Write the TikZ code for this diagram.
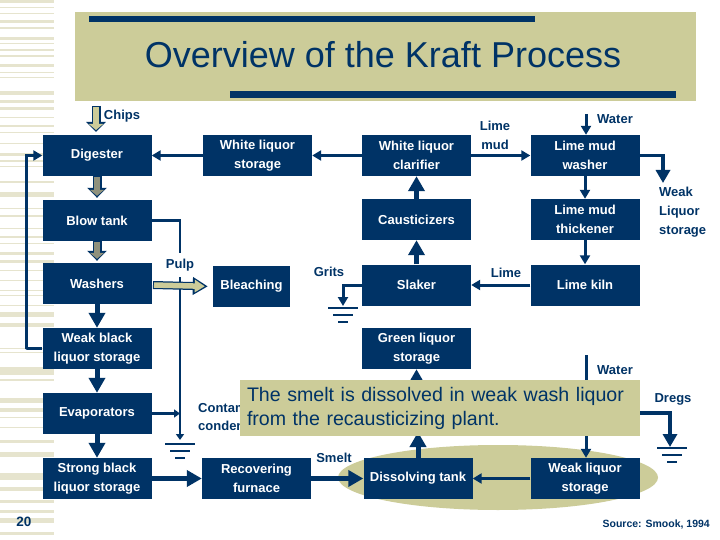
\documentclass[tikz,border=0pt]{standalone}
\usepackage{fontspec}
\setmainfont{Liberation Sans}
\usetikzlibrary{arrows.meta, shapes.geometric}
\definecolor{navy}{HTML}{003366}
\definecolor{olive}{HTML}{CCCC99}
\definecolor{stripe}{HTML}{E6E4CE}
\definecolor{steel}{HTML}{8F917C}
\newcommand{\blockpipe}[3]{%
    \draw[navy, line width=9pt, shorten >=2pt, -{Triangle[length=10pt, width=19pt]}] (#2) -- (#3);
    \draw[#1, line width=6.5pt, shorten <=1pt, shorten >=4pt, -{Triangle[length=6pt, width=14pt]}] (#2) -- (#3);
}

\begin{document}
\begin{tikzpicture}[
    x=1pt, y=-1pt,
    tank/.style={shape=rectangle, fill=navy, text=white, minimum width=109pt, minimum height=41pt, inner sep=0pt, align=center, font=\fontsize{13}{19}\selectfont\bfseries},
    lbl/.style={text=navy, inner sep=0pt, align=center, font=\fontsize{13}{19}\selectfont\bfseries},
    pipe/.style={draw=navy, line width=3pt, -{Triangle[length=9pt, width=10pt]}},
    tiny/.style={draw=navy, line width=2.5pt, -{Triangle[length=6pt, width=8pt]}},
    main/.style={draw=navy, line width=5pt, -{Triangle[length=15pt, width=16pt]}},
    drain/.style={draw=navy, line width=3.5pt, -{Triangle[length=13pt, width=14pt]}},
    groundmark/.pic={
        \draw[navy, line width=1.5pt] (-15,0) -- (15,0);
        \draw[navy, line width=1.5pt] (-10,7) -- (10,7);
        \draw[navy, line width=1.5pt] (-5,14) -- (5,14);
    },
]
\useasboundingbox (0,0) rectangle (720,540);
\fill[white] (0,0) rectangle (720,540);

% side stripes
\foreach \y/\h in {0/3, 7/1, 13/1, 20/3, 27/2, 37/3, 43/1, 49/2, 55/2, 64/3, 72/1, 77/1, 91/4, 100/3, 107/3, 117/1, 125/2, 132/1, 143/1, 153/3, 160/2, 166/1, 181/2, 192/5, 208/1, 215/2, 228/1, 236/2, 243/1, 252/3, 260/3, 270/1, 280/1, 290/1, 295/1, 305/1, 312/5, 323/4, 348/1, 352/1, 367/8, 379/2, 398/5, 408/4, 417/1, 427/1, 440/3, 452/5, 473/7, 487/4, 500/3, 510/3, 518/5, 532/3}
    \fill[stripe] (0,\y) rectangle ++(54,\h);

% title
\node[fill=olive, minimum width=621pt, minimum height=89pt, inner sep=0pt] (band) at (385.5,56.5) {};
\node[fill=navy, minimum width=446pt, minimum height=6pt, inner sep=0pt] (barone) at (312,19) {};
\node[fill=navy, minimum width=446pt, minimum height=7pt, inner sep=0pt] (bartwo) at (453,94.5) {};
\node[text=navy, inner sep=0pt, font=\fontsize{36}{40}\selectfont] (title) at (383,55) {Overview of the Kraft Process};

\node[shape=ellipse, fill=olive, minimum width=320pt, minimum height=65pt, inner sep=0pt] (pool) at (498,477.5) {};

\node[tank] (digester) at (97,155.5) {Digester};
\node[tank] (blow) at (97,220.5) {Blow tank};
\node[tank] (washers) at (97,283.5) {Washers};
\node[tank] (weakblack) at (97,348.5) {Weak black\\liquor storage};
\node[tank] (evap) at (97,413.5) {Evaporators};
\node[tank] (strong) at (97,478.5) {Strong black\\liquor storage};
\node[tank] (whitest) at (257.5,155.5) {White liquor\\storage};
\node[tank, minimum width=77pt] (bleach) at (251.5,286.5) {Bleaching};
\node[tank] (furnace) at (256.5,478.5) {Recovering\\furnace};
\node[tank] (clarifier) at (416.5,155.5) {White liquor\\clarifier};
\node[tank] (caust) at (416.5,219.5) {Causticizers};
\node[tank] (slaker) at (416.5,285) {Slaker};
\node[tank] (green) at (416.5,348.5) {Green liquor\\storage};
\node[tank] (dissolve) at (418,478.5) {Dissolving tank};
\node[tank] (mudwash) at (585,155.5) {Lime mud\\washer};
\node[tank] (thick) at (585,219.5) {Lime mud\\thickener};
\node[tank] (kiln) at (585,285) {Lime kiln};
\node[tank] (weakst) at (585,478.5) {Weak liquor\\storage};

\coordinate (chipsin) at (96,106);
\coordinate (waterin) at (586,114);
\coordinate (waterlow) at (586,355);
\coordinate (recycle) at (26,349);
\coordinate (spent) at (180,440);
\coordinate (tee) at (180,413.5);
\coordinate (gritsend) at (343,306);
\coordinate (dregsout) at (640,413);
\coordinate (dregsend) at (670,447);
\coordinate (liquorend) at (663,183);
\coordinate (greenin) at (416.5,393);
\coordinate (dissolveup) at (418,432);
\coordinate (pulpin) at (153,285);

\blockpipe{olive}{chipsin}{96,134}
\blockpipe{steel}{digester.south}{blow.north}
\blockpipe{steel}{blow.south}{washers.north}

\draw[tiny] (blow.east) -| (spent);
\node[fill=white, minimum width=32pt, minimum height=24pt, inner sep=0pt, text=navy, font=\fontsize{13}{19}\selectfont\bfseries] (pulp) at (180,265) {Pulp};
\draw[navy, line width=8pt, shorten >=5pt, -{Triangle[length=15pt, width=17pt]}] (pulpin) -- (bleach.west);
\draw[olive, line width=5.5pt, shorten <=1pt, shorten >=8pt, -{Triangle[length=10pt, width=12pt]}] (pulpin) -- (bleach.west);
\pic at (180,444) {groundmark};

\path[every edge/.style={pipe}]
    (weakblack.west) edge[to path={-| (recycle) |- (\tikztotarget)}] node {} (digester.west)
    (whitest.west) edge node {} (digester.east)
    (clarifier.west) edge node {} (whitest.east)
    (clarifier.east) edge node {} (mudwash.west)
    (waterin) edge node {} (waterin |- mudwash.north)
    (mudwash.south) edge node {} (thick.north)
    (thick.south) edge node {} (kiln.north)
    (kiln.west) edge node {} (slaker.east)
    (weakst.west) edge node {} (dissolve.east)
    (waterlow) edge node {} (waterlow |- weakst.north)
;
\draw[tiny] (evap.east) -- (tee);
\draw[pipe] (slaker.west) -| (gritsend);
\pic at (343,308) {groundmark};
\draw[drain] (mudwash.east) -| (liquorend);
\draw[drain] (dregsout) -| (dregsend);
\pic at (672,448) {groundmark};

\path[every edge/.style={main}]
    (caust.north) edge node {} (clarifier.south)
    (slaker.north) edge node {} (caust.south)
    (greenin) edge node {} (green.south)
    (dissolve.north) edge node {} (dissolveup)
    (washers.south) edge node {} (weakblack.north)
    (weakblack.south) edge node {} (evap.north)
    (evap.south) edge node {} (strong.north)
    (strong.east) edge node {} (furnace.west)
    (furnace.east) edge node {} (dissolve.west)
;

\node[lbl] (chips) at (122,116) {Chips};
\node[lbl] (limemud) at (495,135) {Lime\\mud};
\node[lbl] (watertop) at (615,119) {Water};
\node[lbl, align=left, anchor=north west] (weakliq) at (659,187) {Weak\\Liquor\\storage};
\node[lbl] (grits) at (329,272) {Grits};
\node[lbl] (limelbl) at (506,273) {Lime};
\node[lbl] (waterlbl) at (615,370) {Water};
\node[lbl] (dregs) at (673,399) {Dregs};
\node[lbl, anchor=west] (contam) at (198,408) {Contam};
\node[lbl, anchor=west] (conden) at (198,426) {conden};
\node[lbl] (smelt) at (334,458) {Smelt};
\node[lbl, font=\fontsize{13.5}{16}\selectfont\bfseries] (pageno) at (24,522) {20};
\node[lbl, anchor=east, font=\fontsize{10.5}{12}\selectfont\bfseries] (source) at (710,525) {Source: Smook, 1994};

% note on top
\node[fill=olive, text=navy, minimum width=400pt, minimum height=56pt, inner xsep=7pt, inner ysep=0pt, text width=386pt, align=left, font=\fontsize{19.6}{24}\selectfont] (note) at (440,408) {The smelt is dissolved in weak wash liquor\\from the recausticizing plant.};
\end{tikzpicture}
\end{document}
